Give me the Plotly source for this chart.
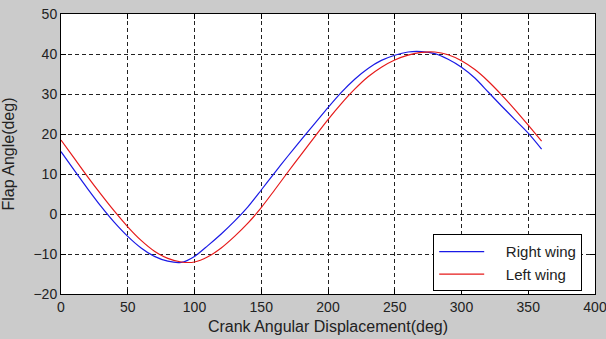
import plotly.graph_objects as go

# Crank angular displacement (deg)
crank_deg = [0, 10, 20, 30, 40, 50, 60, 70, 80, 90, 100, 110, 120, 130, 140, 150, 160, 170, 180,
             190, 200, 210, 220, 230, 240, 250, 260, 270, 280, 290, 300, 310, 320, 330, 340, 350, 360]

# Flap angle (deg)
right_wing = [15.6, 10.9, 6.3, 1.9, -2.1, -5.6, -8.5, -10.6, -11.8, -12.1, -10.6, -7.9, -5.0, -1.8,
              1.8, 6.0, 10.3, 14.5, 18.6, 22.6, 26.6, 30.4, 33.7, 36.4, 38.4, 39.7, 40.5, 40.6,
              40.1, 38.7, 36.7, 34.0, 30.5, 27.0, 23.6, 20.2, 16.2]
left_wing = [18.5, 13.9, 9.3, 4.9, 0.7, -3.2, -6.6, -9.3, -11.1, -12.0, -12.0, -10.7, -8.5, -5.6,
             -2.3, 1.6, 6.0, 10.5, 14.9, 19.3, 23.6, 27.6, 31.2, 34.3, 36.7, 38.5, 39.7, 40.4,
             40.5, 39.8, 38.3, 36.1, 33.2, 29.8, 26.1, 22.2, 18.2]

series_names = ["Right wing", "Left wing"]
x_ticks = [0, 50, 100, 150, 200, 250, 300, 350, 400]
y_ticks = [-20, -10, 0, 10, 20, 30, 40, 50]

FONT = "Liberation Sans, Arial, sans-serif"
PAD = "\u00a0\u00a0\u00a0\u00a0"

fig = go.Figure()
fig.add_trace(go.Scatter(x=crank_deg, y=right_wing, mode="lines", name=PAD + series_names[0],
                         line=dict(color="#1a1ae6", width=1.2, shape="spline", smoothing=0.8)))
fig.add_trace(go.Scatter(x=crank_deg, y=left_wing, mode="lines", name=PAD + series_names[1],
                         line=dict(color="#e61a1a", width=1.2, shape="spline", smoothing=0.8)))

axis_common = dict(
    automargin=False, ticklabeloverflow="allow",
    showline=True, linecolor="black", linewidth=1, mirror="allticks",
    ticks="inside", ticklen=5, tickcolor="black", tickwidth=1,
    showgrid=True, gridcolor="#222222", gridwidth=1.4, griddash="4px,3px",
    zeroline=False, tickfont=dict(family=FONT, size=14, color="#222222"),
)

fig.update_xaxes(range=[0, 400], tickvals=x_ticks, **axis_common,
                 title=dict(text="Crank Angular Displacement(deg)", standoff=7,
                            font=dict(family=FONT, size=16, color="#222222")))
fig.update_yaxes(range=[-20, 50], tickvals=y_ticks, **axis_common,
                 title=dict(text="Flap Angle(deg)", standoff=16,
                            font=dict(family=FONT, size=16, color="#222222")))

fig.update_layout(
    width=606, height=339,
    margin=dict(l=61, r=11, t=14, b=45, autoexpand=False),
    paper_bgcolor="#cbcbcb", plot_bgcolor="white",
    showlegend=True,
    legend=dict(x=0.697, y=0.213, xanchor="left", yanchor="top",
                bgcolor="white", bordercolor="black", borderwidth=1,
                font=dict(family=FONT, size=15, color="#222222"),
                itemwidth=45, tracegroupgap=0),
)

fig.write_html("out.html", config={"displayModeBar": False},
               post_script="document.body.style.margin='0px';document.body.style.overflow='hidden';")
